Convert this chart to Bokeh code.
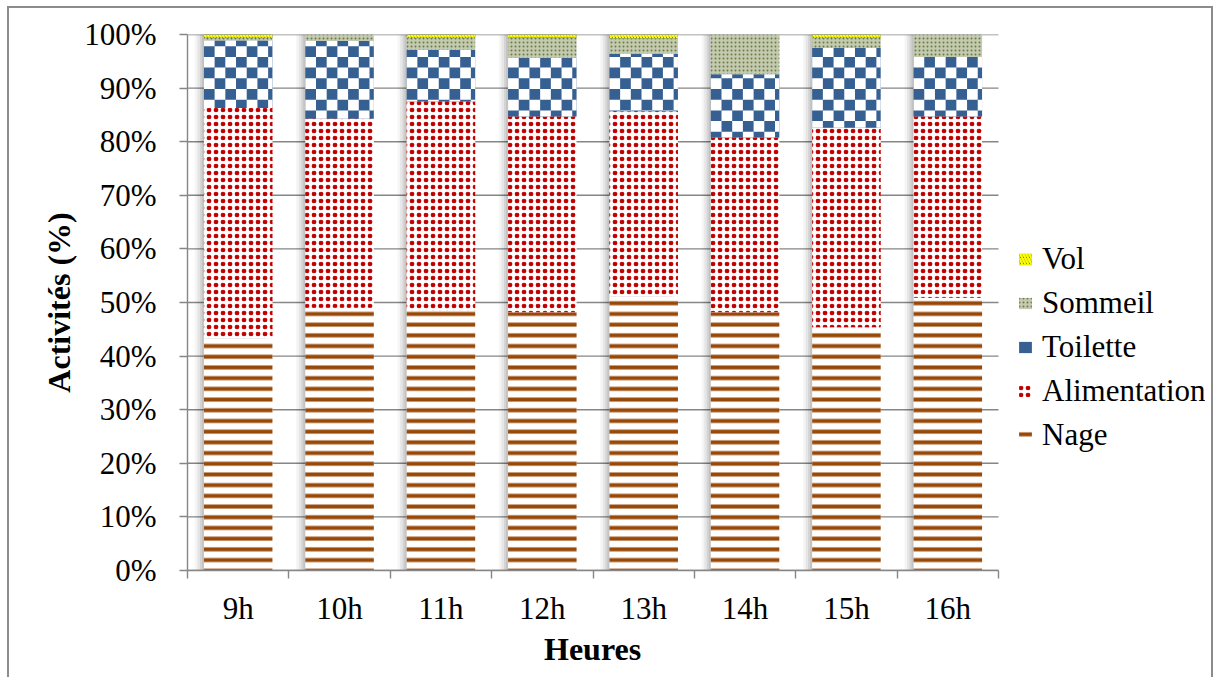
import math
from bokeh.plotting import figure
from bokeh.models import (ColumnDataSource, Range1d, FixedTicker, Legend,
                          LegendItem, Title)
from bokeh.transform import stack, dodge
from bokeh.embed import file_html
from bokeh.resources import INLINE

# ---------------- data ----------------
hours = ["9h", "10h", "11h", "12h", "13h", "14h", "15h", "16h"]
nage = [43.3, 49.0, 48.4, 48.2, 51.1, 48.2, 45.4, 50.9]
alimentation = [43.0, 35.3, 39.1, 36.5, 34.6, 32.6, 37.2, 33.8]
toilette = [12.6, 14.5, 9.6, 10.9, 10.7, 11.8, 14.9, 11.1]
sommeil = [0.5, 1.2, 2.3, 3.9, 2.9, 7.4, 1.9, 4.2]
vol = [0.6, 0.0, 0.6, 0.5, 0.7, 0.0, 0.6, 0.0]

y_ticks = [0, 10, 20, 30, 40, 50, 60, 70, 80, 90, 100]
y_tick_labels = ["0%", "10%", "20%", "30%", "40%", "50%", "60%", "70%",
                 "80%", "90%", "100%"]

series_names = ["Nage", "Alimentation", "Toilette", "Sommeil", "Vol"]

BAR_W = 0.676
xpos = [i + 0.5 for i in range(len(hours))]
N = len(hours)

source = ColumnDataSource(data=dict(
    x=xpos, Nage=nage, Alimentation=alimentation, Toilette=toilette,
    Sommeil=sommeil, Vol=vol,
))

# ---------------- layout (pixels) ----------------
W, H = 1206, 671
MB_L, MB_R, MB_T, MB_B = 178, 10, 26, 109
PLOT_PX = 811.0                       # width of the bar area in pixels
FRAME_PX = W - MB_L - MB_R            # frame extends to hold the legend
x_end = N * FRAME_PX / PLOT_PX

p = figure(width=W, height=H, output_backend="svg", toolbar_location=None,
           x_range=Range1d(0, x_end), y_range=Range1d(0, 100),
           min_border_left=MB_L, min_border_right=MB_R, min_border_top=MB_T,
           min_border_bottom=MB_B)
p.styles = {"margin-left": "7px", "margin-top": "6px",
            "border-left": "2px solid #8c8c8c", "border-top": "2px solid #8c8c8c",
            "border-right": "2px solid #8c8c8c"}
p.outline_line_color = None
p.background_fill_color = "white"
p.border_fill_color = "white"

GREY = "#868686"
FONT = "Liberation Serif"

# horizontal grid lines limited to the bar area
p.xgrid.visible = False
p.ygrid.visible = False
p.segment(x0=[0] * len(y_ticks), x1=[N] * len(y_ticks), y0=y_ticks, y1=y_ticks,
          line_color=GREY, line_width=1.4)

# soft shadow to the left of each bar
for off, a in [(-0.09, 0.04), (-0.065, 0.06), (-0.04, 0.08), (-0.02, 0.08)]:
    p.vbar(x=dodge("x", off), width=BAR_W, bottom=0, top=stack(*series_names),
           source=source, fill_color="black", fill_alpha=a, line_color=None)

styles = {
    "Nage": dict(fill_color="white", hatch_pattern="horizontal_line",
                 hatch_color="#984807", hatch_scale=10.7, hatch_weight=4),
    "Alimentation": dict(fill_color="white", hatch_pattern="dot",
                         hatch_color="#c00000", hatch_scale=7, hatch_weight=1),
    "Toilette": dict(fill_color="#376092"),
    "Sommeil": dict(fill_color="#c3cab0", hatch_pattern="dot",
                    hatch_color="#6b7b45", hatch_scale=4, hatch_weight=1.4),
    "Vol": dict(fill_color="#1f3864", hatch_pattern="left_diagonal_line",
                hatch_color="#ffff00", hatch_scale=6, hatch_weight=2.5),
}

renderers = {}
for i, name in enumerate(series_names):
    r = p.vbar(x="x", width=BAR_W, bottom=stack(*series_names[:i]),
               top=stack(*series_names[:i + 1]), source=source,
               line_color=None, **styles[name])
    renderers[name] = r

# second pattern layer to enlarge the red dots of Alimentation
alim_ring = p.vbar(x="x", width=BAR_W, bottom=stack("Nage"),
                   top=stack("Nage", "Alimentation"), source=source,
                   fill_alpha=0, line_color=None, hatch_pattern="ring",
                   hatch_color="#c00000", hatch_scale=7, hatch_weight=1.2)

# white squares of the checker texture on the Toilette segments
SQ_X = 10.7 / (PLOT_PX / N)   # square size in category units
SQ_Y = 10.7 / 5.36            # square size in percent units
ql, qr, qb, qt = [], [], [], []
for xc, n, a, t in zip(xpos, nage, alimentation, toilette):
    b0, t0 = n + a, n + a + t
    left, right = xc - BAR_W / 2, xc + BAR_W / 2
    ncol = int(math.ceil(BAR_W / SQ_X))
    j0, j1 = int(math.floor(b0 / SQ_Y)), int(math.ceil(t0 / SQ_Y))
    for k in range(ncol):
        for j in range(j0, j1):
            if (k + j) % 2 == 1:
                l_, r_ = left + k * SQ_X, min(left + (k + 1) * SQ_X, right)
                bb, tt = max(j * SQ_Y, b0), min((j + 1) * SQ_Y, t0)
                if tt > bb and r_ > l_:
                    ql.append(l_); qr.append(r_); qb.append(bb); qt.append(tt)
p.quad(left=ql, right=qr, bottom=qb, top=qt, fill_color="white",
       line_color=None)

# axes
ya = p.yaxis[0]
ya.ticker = FixedTicker(ticks=y_ticks)
ya.major_label_overrides = {t: l for t, l in zip(y_ticks, y_tick_labels)}
ya.axis_line_color = GREY
ya.axis_line_width = 1.4
ya.major_tick_line_color = GREY
ya.major_tick_line_width = 1.4
ya.major_tick_out = 8
ya.major_tick_in = 0
ya.minor_tick_line_color = None
ya.major_label_text_font = FONT
ya.major_label_text_font_size = "31px"
ya.major_label_text_color = "black"
ya.major_label_standoff = 23
ya.axis_label = "Activités (%)"
ya.axis_label_text_font = FONT
ya.axis_label_text_font_size = "32px"
ya.axis_label_text_font_style = "bold"
ya.axis_label_text_color = "black"
ya.axis_label_standoff = 4

xa = p.xaxis[0]
xa.bounds = (0, N)
xa.ticker = FixedTicker(ticks=xpos, minor_ticks=list(range(N + 1)))
xa.major_label_overrides = {t: l for t, l in zip(xpos, hours)}
xa.axis_line_color = GREY
xa.axis_line_width = 1.4
xa.major_tick_line_color = None
xa.minor_tick_line_color = GREY
xa.minor_tick_line_width = 1.4
xa.minor_tick_out = 8
xa.minor_tick_in = 0
xa.major_label_text_font = FONT
xa.major_label_text_font_size = "31px"
xa.major_label_text_color = "black"
xa.major_label_standoff = 12

# x-axis title centred under the bar area (not the widened frame)
x_title = Title(text="Heures", align="left", offset=PLOT_PX / 2 - 49,
                text_font=FONT, text_font_size="32px", text_font_style="bold",
                text_color="black", standoff=0)
p.add_layout(x_title, "below")

# legend (inside the widened frame, right of the bars)
legend_renderers = {n: [renderers[n]] for n in series_names}
legend_renderers["Alimentation"] = [renderers["Alimentation"], alim_ring]
items = [LegendItem(label=n, renderers=legend_renderers[n])
         for n in ["Vol", "Sommeil", "Toilette", "Alimentation", "Nage"]]
legend = Legend(items=items, location=(830, 117), padding=0, margin=0,
                border_line_color=None, background_fill_alpha=0,
                glyph_width=16, glyph_height=14, label_standoff=9,
                spacing=8, label_text_font=FONT, label_text_font_size="31px",
                label_text_color="black")
p.add_layout(legend, "center")

open("out.html", "w").write(file_html(p, INLINE))
